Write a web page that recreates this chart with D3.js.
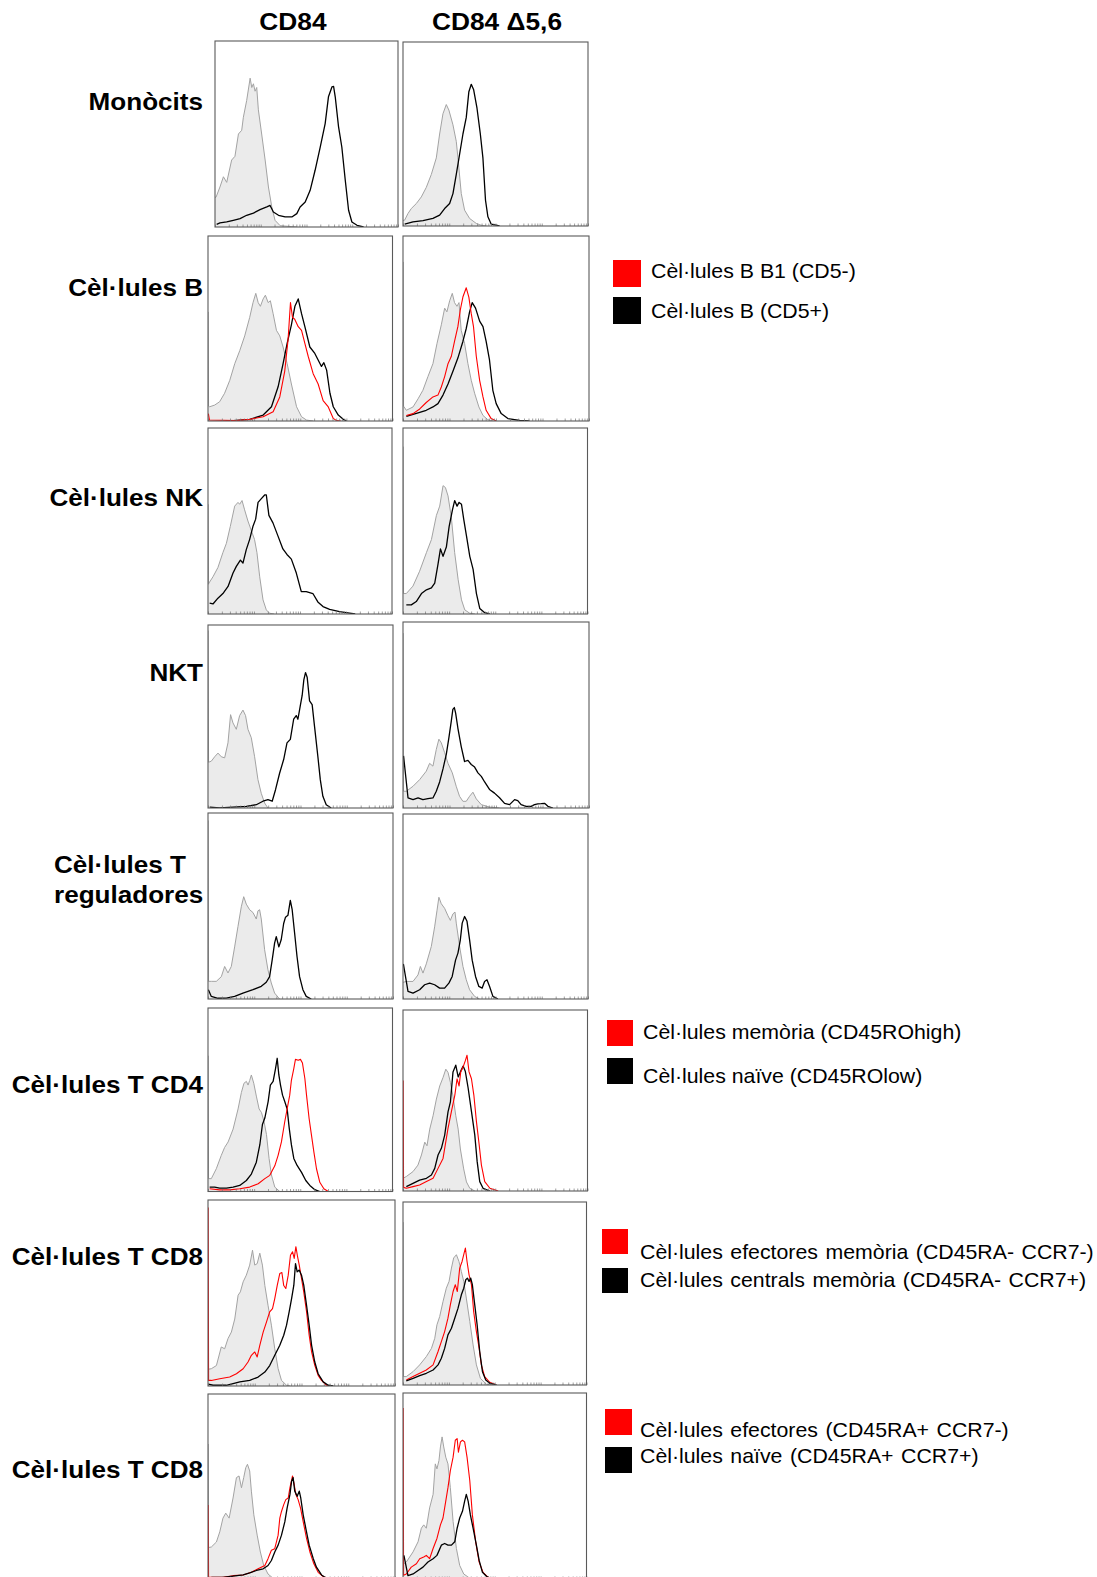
<!DOCTYPE html>
<html>
<head>
<meta charset="utf-8">
<script src="https://cdn.jsdelivr.net/npm/d3@7"></script>
<style>
body { margin: 0; background: #fff; }
svg { display: block; }
</style>
</head>
<body>
<script>
var w = 1097, h = 1577;

// titles / labels
var colTitles = ["CD84", "CD84 Δ5,6"];
var rowLabels = [["Monòcits"], ["Cèl·lules B"], ["Cèl·lules NK"], ["NKT"], ["Cèl·lules T", "reguladores"],
                 ["Cèl·lules T CD4"], ["Cèl·lules T CD8"], ["Cèl·lules T CD8"]];

var legendB    = ["Cèl·lules B B1 (CD5-)", "Cèl·lules B (CD5+)"];
var legendCD4  = ["Cèl·lules memòria (CD45ROhigh)", "Cèl·lules naïve (CD45ROlow)"];
var legendCD8a = ["Cèl·lules efectores memòria (CD45RA- CCR7-)", "Cèl·lules centrals memòria (CD45RA- CCR7+)"];
var legendCD8b = ["Cèl·lules efectores (CD45RA+ CCR7-)", "Cèl·lules naïve (CD45RA+ CCR7+)"];

// histograms: [channel 0-1000 (4 log decades), % of max]
// iso = control (grey filled)
var mono1_iso = [[0,16],[5.5,16],[27,21.5],[46,27],[64,24],[91,36],[109,38],[128,50],[146,52],[155,59],[173,68],[192,80],[201,75],[210,77],[219,73],[228,75],[237,63],[255,50],[274,36],[292,21.5],[310,11],[328,3.6],[356,0.7],[447,0]];
var mono1_pos = [[9,1.4],[27,2.2],[64,2.7],[100,3.6],[137,4.5],[173,6.3],[210,7.5],[246,9.3],[283,10.8],[301,11.6],[319,8.1],[347,6.3],[383,5.4],[420,5.4],[447,7.2],[465,10.8],[493,13.4],[520,19.7],[547,30.5],[575,43],[602,55.6],[620,70],[639,75.3],[648,75.6],[657,70],[675,54],[693,43],[712,25],[730,9],[748,2.7],[776,0.9],[812,0]];
var mono2_iso = [[0,3],[9,3.2],[27,6.8],[45,9.5],[72,12.2],[99,15.8],[126,21],[153,28],[180,37],[198,50],[216,61],[234,66],[248,63],[270,55],[288,46],[297,37],[315,17.6],[333,8.6],[360,4.1],[396,1.4],[423,0.4],[450,0]];
var mono2_pos = [[9,1],[54,2.2],[108,2.9],[162,4.1],[198,5.9],[225,9.5],[252,12.2],[270,17.6],[288,28],[306,39],[324,50],[342,59],[356,73],[369,77],[382,74],[400,64],[418,50],[432,37],[446,14],[459,5],[477,1],[522,0]];

var b1_iso = [[1,59],[3,8],[9,7.7],[36,8.6],[63,10.4],[90,15],[118,22],[145,31],[172,38],[199,46],[226,56],[244,64],[259,69],[272,64],[284,62],[299,66],[311,68],[326,64],[338,65],[353,58],[371,49],[389,46],[407,40],[429,31],[452,20],[480,7.7],[507,2.3],[534,0.5],[570,0]];
var b1_b1  = [[2,4],[8,0.5],[154,0.2],[226,0.9],[299,2.3],[353,5],[389,13],[416,27],[434,44],[447,64],[458,56],[470,55],[489,51],[507,49],[525,42],[543,35],[570,25.6],[597,20],[624,11],[652,7.6],[679,1.4],[697,0.2],[720,0]];
var b1_b   = [[136,0.2],[226,0.9],[299,3.2],[344,7.7],[380,18.5],[407,31],[429,42],[452,52],[471,62],[489,66],[507,58],[525,51],[552,40],[579,36.5],[597,33],[615,29.5],[628,31.5],[643,27.5],[661,15],[679,7.7],[706,3.2],[733,0.9],[751,0]];
var b2_iso = [[1,86],[3,8],[18,5.8],[54,7.6],[81,12],[107,16.6],[134,24],[161,31],[183,42],[206,52],[224,61],[236,59],[251,65],[265,69],[277,64],[290,62],[301,64],[313,49],[331,42],[349,31],[367,22],[385,15],[408,7.6],[430,3],[456,0.7],[483,0]];
var b2_b1  = [[18,3],[54,4],[90,6.5],[125,10],[161,13],[188,14],[206,18.4],[224,24],[242,31],[260,35],[277,43],[295,51],[308,60],[322,67],[340,72],[354,67],[367,58],[379,51],[394,35],[412,22],[430,13],[447,5.8],[474,1.3],[501,0]];
var b2_b   = [[18,2.5],[54,3.6],[90,4.7],[125,5.8],[161,7.6],[188,9.4],[215,14],[242,20],[269,27],[295,34],[322,43],[340,50],[358,59],[372,64],[390,61],[412,54],[430,51],[447,43],[465,33],[483,16.6],[501,9.4],[528,4],[564,1.3],[627,0.3],[680,0]];

var nk1_iso = [[1,59],[3,16],[5,16.6],[27,20],[54,25],[81,33],[100,38],[121,47],[145,58],[163,60],[172,59],[185,61],[199,56],[217,50],[235,45],[253,40],[266,33],[281,20],[299,7.6],[317,2.2],[335,0.4],[360,0]];
var nk1_pos = [[9,5.8],[27,5.4],[54,8.5],[81,11],[109,14.8],[136,22],[154,25.6],[176,29],[190,27.4],[208,34.6],[226,40],[244,47],[259,51],[272,60],[290,62],[308,64],[317,64],[331,53],[353,49],[380,42],[407,35],[429,32],[453,29.5],[480,22],[507,12],[534,12],[570,11],[597,6.5],[625,4],[661,2.5],[715,1.3],[769,0.5],[800,0]];
var nk2_iso = [[1,90],[3,11],[18,11],[54,15],[90,23],[127,33],[154,40],[181,53],[199,58],[217,69],[230,68],[244,63.5],[262,52],[280,33],[299,18.4],[317,7.6],[335,2.2],[362,0.4],[390,0]];
var nk2_pos = [[18,4.9],[45,4.9],[72,6.7],[100,11],[127,13],[154,14],[172,16.6],[190,27],[203,35],[217,31],[235,36],[250,47],[268,56],[280,61],[293,58],[304,60],[317,59],[329,51],[344,42],[362,31],[380,24],[398,11],[416,3],[443,0.7],[470,0]];

var nkt1_iso = [[1,97],[3,25],[18,25.6],[36,28],[54,30],[72,28],[90,27.4],[108,35.6],[122,51],[135,46.5],[153,43],[171,50.5],[189,53.5],[203,50.5],[216,43],[234,38.4],[252,28],[270,15.5],[288,8],[306,2.7],[324,0]];
var nkt1_pos = [[9,0.5],[63,0],[135,0.5],[207,0.9],[261,1.8],[297,3.7],[324,4.6],[347,3.7],[365,10],[387,19],[409,26.5],[427,35.6],[445,37.5],[463,48.5],[477,50.5],[486,48.5],[499,56],[509,61.5],[518,70],[527,74],[536,71.5],[549,58.5],[563,56.5],[576,44.5],[594,28],[607,15.5],[621,6.4],[639,1.8],[666,0]];
var nkt2_iso = [[1,94],[3,9],[18,9],[54,11.7],[90,15.3],[125,19.8],[143,24],[161,22.5],[179,31.5],[193,37],[206,35],[224,29.7],[242,24],[265,18.9],[286,11.7],[304,6.3],[322,3.6],[340,3.6],[358,6.3],[376,8.5],[394,4.9],[421,1.8],[465,0.5],[519,0]];
var nkt2_pos = [[3,28],[27,5.4],[54,4.5],[81,5.4],[107,4.5],[134,5],[161,5.4],[179,9],[197,14],[215,21],[233,29],[247,38],[260,47],[268,53],[276,54],[283,51],[295,43],[313,33],[331,25],[349,25.6],[367,23.4],[385,22],[403,18.9],[421,17],[439,14],[465,10],[492,8],[519,5.5],[546,2.5],[573,1.8],[600,4.5],[617,4],[635,1.8],[662,0.9],[689,0.9],[707,1.8],[725,2.2],[743,2.3],[761,2.5],[779,0.9],[806,0]];

var treg1_iso = [[1,96],[3,9.5],[18,9.5],[45,9.5],[72,12],[90,17.5],[108,14],[126,17.5],[144,28],[162,39],[180,49.6],[193,55],[207,51],[225,48],[243,46.5],[261,43],[270,47.4],[279,48],[288,43],[306,26.5],[324,15.7],[342,8.6],[360,3.2],[387,0]];
var treg1_pos = [[2,5],[18,1.4],[54,0.4],[99,0.5],[144,1.4],[189,3.2],[243,5],[288,6.8],[315,9],[333,12],[347,21],[360,30],[369,33.5],[383,28],[396,32],[409,40.6],[419,44],[432,45],[445,53],[455,48],[468,35.6],[481,23],[495,12],[513,5],[531,1.4],[558,0]];
var treg2_iso = [[0,9],[18,9.5],[54,9.5],[81,13],[94,17.6],[108,14],[126,19],[153,28.4],[171,39],[184,48],[194,55],[207,51.5],[225,49],[243,45],[256,42.5],[270,46],[281,47],[288,41],[306,28.4],[324,17.6],[342,10.4],[360,5],[387,1.4],[414,0]];
var treg2_pos = [[2,19],[27,4.1],[54,3.2],[90,5],[117,7.7],[144,8.6],[171,7.7],[198,5.9],[225,5.9],[248,8.6],[266,12.2],[284,21],[297,24.8],[310,32],[320,41],[333,44.6],[346,42],[360,32],[374,21],[392,12.2],[410,6.8],[428,5.9],[441,9.5],[454,10.4],[468,6.8],[486,1.4],[513,0]];

var cd4a_iso = [[1,74],[3,7],[18,7],[45,12.4],[72,19.7],[90,24],[109,27],[136,34],[163,45],[181,54],[195,59],[208,60],[217,58],[226,60.5],[235,63.5],[248,59],[262,52],[277,45],[290,43],[304,38],[317,31],[331,18],[344,9],[362,2.4],[389,0]];
var cd4a_hi  = [[9,1.5],[63,0.9],[118,0.9],[172,1.5],[226,2.4],[272,4.2],[308,7],[335,8.8],[362,14],[380,19.7],[398,27],[416,38],[429,45],[443,52.5],[452,60.6],[465,67],[474,72],[489,71.5],[501,72],[512,70],[525,61.6],[534,52.5],[548,39.8],[561,30.6],[574,21.5],[588,12.4],[606,5],[628,1.5],[652,0]];
var cd4a_lo  = [[9,2.4],[36,2.4],[63,1.8],[100,1.8],[136,2.4],[172,3.3],[208,6],[235,9.5],[262,16],[281,25.5],[295,36.5],[308,40],[326,49],[338,58],[353,60],[366,67],[375,72.6],[384,63.5],[393,58],[404,52.5],[416,49],[429,45],[440,34.7],[452,25.5],[465,18],[483,14.2],[507,10.4],[530,6],[552,3.3],[579,1],[606,0]];
var cd4b_iso = [[0,7],[18,8],[54,10.7],[81,14.3],[100,19.9],[118,27],[130,25],[145,34.2],[163,41.6],[181,50.8],[199,58],[217,62.7],[232,67.3],[244,65.5],[257,60],[271,52.4],[286,41.6],[299,34.2],[311,23.2],[329,12.2],[344,5],[362,1.5],[389,0]];
var cd4b_hi  = [[1,61],[3,2],[18,1.5],[54,2.4],[90,3.3],[127,5.2],[163,7],[190,12.5],[217,18],[244,34.6],[262,43.7],[281,53],[293,62],[304,58],[313,65.8],[326,68.6],[338,72],[347,75],[358,65.8],[371,62],[384,53],[398,38.3],[413,25.4],[425,14.3],[443,5.2],[471,1.5],[516,0]];
var cd4b_lo  = [[18,2.4],[54,4.2],[90,6],[127,7],[154,8.8],[172,12.5],[190,19.9],[208,23.6],[226,30.9],[244,43.7],[257,49.2],[271,65.8],[286,69.5],[299,63],[311,65.8],[326,69],[338,66],[353,56.9],[371,44],[389,31],[402,16.2],[416,5.2],[434,1.5],[471,0]];

var cd8a1_iso = [[1,9],[18,9.3],[45,11],[71,21],[89,20],[107,25.5],[125,29],[143,36],[161,48.8],[173,50.6],[188,56],[205,59.6],[223,65],[238,73],[250,65],[263,65.8],[277,71.4],[291,65],[304,54],[321,43.4],[339,32.7],[357,20],[375,9.3],[393,3],[420,0.4],[440,0]];
var cd8a1_em  = [[1,96],[3,3],[18,3],[63,3.9],[116,4.8],[152,6.6],[188,9.3],[214,12.9],[232,16.5],[250,18.3],[263,15.6],[277,21.9],[295,29],[313,34.5],[330,39.9],[345,41.6],[357,47],[370,54],[384,60.5],[395,61],[405,54],[416,52.4],[429,59.6],[441,70.3],[452,72.2],[461,68.6],[470,74.9],[479,69.5],[488,65],[500,57.8],[512,50.6],[527,39.9],[541,27.3],[554,18.3],[571,11.1],[589,5.7],[607,3],[634,0.4],[660,0]];
var cd8a1_cm  = [[2,1],[27,0.4],[98,0.4],[170,2.2],[223,3],[268,4.8],[304,7.5],[330,11],[357,16.5],[384,21.9],[405,27.3],[420,32.7],[434,39.9],[447,47],[459,54.2],[468,65.8],[477,61.4],[488,62.3],[500,59.6],[512,54.2],[527,43.4],[541,32.7],[554,21.9],[571,12.9],[589,6.6],[616,2.2],[643,0.4],[670,0]];
var cd8a2_iso = [[1,89],[3,4.6],[18,4.6],[55,7.3],[91,11],[127,15.5],[155,20],[173,25.5],[185,32.9],[200,37.4],[218,45.6],[236,52.9],[251,56.6],[264,63.9],[276,69.4],[291,71.2],[305,67.5],[318,62],[331,56.6],[345,47.5],[364,34.7],[382,21.9],[400,11],[422,3.6],[455,0.4],[480,0]];
var cd8a2_em  = [[18,2.7],[55,4.6],[91,6.4],[127,8.2],[164,11],[191,18.3],[209,23.7],[227,29.2],[245,36.5],[258,43.8],[273,51.1],[285,54.8],[296,51.1],[309,63.9],[322,67.5],[333,72],[340,74.8],[349,67.5],[360,60.2],[373,54.8],[385,40.2],[400,29.2],[415,20],[427,11],[445,4.6],[473,1.5],[509,0]];
var cd8a2_cm  = [[18,2.2],[55,3.6],[91,5.1],[127,6.4],[164,8.2],[191,11],[209,14.6],[227,20],[245,27.4],[264,31],[282,36.5],[300,42],[318,49.3],[331,52.9],[342,57.5],[351,58.4],[360,56.6],[369,58.4],[378,54.8],[391,43.8],[404,32.9],[418,18.3],[433,7.3],[451,2.7],[473,0.9],[509,0]];

var cd8b1_iso = [[1,73],[3,17],[18,17.3],[45,20],[63,25.5],[80,32.9],[95,35.6],[113,32.9],[134,43.8],[152,54.8],[166,55.7],[179,49.3],[191,54.8],[202,60.2],[211,62],[223,58.4],[232,47.5],[245,34.7],[263,23.7],[280,14.6],[298,7.3],[321,2.7],[348,0.4],[370,0]];
var cd8b1_ef  = [[1,40],[3,1],[18,0.9],[80,0.9],[134,1.8],[188,2.2],[232,3.6],[268,5.5],[304,7.3],[321,11],[339,15.5],[357,16.4],[375,23.7],[384,32.9],[393,36.5],[405,40.2],[416,42.9],[429,43.8],[438,49.3],[452,55.7],[461,51.1],[470,45.6],[482,42.9],[495,38.3],[509,31],[527,21.9],[545,14.6],[566,8.2],[589,3.6],[616,1.3],[652,0]];
var cd8b1_nv  = [[18,0.9],[80,0.9],[134,1.5],[188,2.2],[223,3.3],[259,4.6],[295,5.5],[321,7.3],[339,10],[357,14.6],[375,18.3],[393,23.7],[411,31],[423,38.3],[438,45.6],[447,52.9],[455,54.8],[464,47.5],[477,44.7],[488,47.5],[496,43.8],[509,34.7],[523,27.4],[541,18.3],[563,11],[580,6.4],[607,2.2],[634,0.4],[660,0]];
var cd8b2_iso = [[1,8],[18,9.1],[55,14.6],[82,20],[100,27.3],[113,29.1],[127,27.3],[145,38.2],[164,45.5],[176,61.9],[185,59.2],[196,63.7],[204,71],[213,76.4],[222,71],[233,65.5],[245,61.9],[258,49.1],[273,30.9],[291,16.4],[309,7.3],[331,2.7],[364,0.4],[390,0]];
var cd8b2_ef  = [[1,92],[3,2],[18,2.7],[45,6.4],[73,8.2],[91,10.9],[113,11.8],[127,12.7],[145,10.9],[164,16.4],[185,21.8],[204,29.1],[218,32.8],[233,41.9],[245,49.1],[258,58.2],[273,65.5],[285,74.6],[295,75.5],[302,68.2],[313,73.7],[324,74.6],[336,73.7],[349,65.5],[364,52.8],[378,34.6],[396,20],[415,9.1],[436,3.6],[464,0.9],[500,0]];
var cd8b2_nv  = [[5,12.7],[27,1.8],[55,2.7],[82,4.6],[109,6.4],[136,9.1],[164,10.9],[185,12.7],[209,18.2],[227,19.1],[245,18.2],[264,18.2],[282,20],[295,27.3],[309,32.8],[324,36.4],[336,41.9],[345,45.5],[355,41.9],[367,34.6],[382,27.3],[400,18.2],[415,10],[433,3.6],[455,1.5],[482,0]];

var RED = "#ff0000", BLK = "#000000";

// which curves go in which panel [row][col]
var panels = [
  [{iso: mono1_iso, lines: [[mono1_pos, BLK]]}, {iso: mono2_iso, lines: [[mono2_pos, BLK]]}],
  [{iso: b1_iso, lines: [[b1_b, BLK], [b1_b1, RED]]}, {iso: b2_iso, lines: [[b2_b, BLK], [b2_b1, RED]]}],
  [{iso: nk1_iso, lines: [[nk1_pos, BLK]]}, {iso: nk2_iso, lines: [[nk2_pos, BLK]]}],
  [{iso: nkt1_iso, lines: [[nkt1_pos, BLK]]}, {iso: nkt2_iso, lines: [[nkt2_pos, BLK]]}],
  [{iso: treg1_iso, lines: [[treg1_pos, BLK]]}, {iso: treg2_iso, lines: [[treg2_pos, BLK]]}],
  [{iso: cd4a_iso, lines: [[cd4a_lo, BLK], [cd4a_hi, RED]]}, {iso: cd4b_iso, lines: [[cd4b_lo, BLK], [cd4b_hi, RED]]}],
  [{iso: cd8a1_iso, lines: [[cd8a1_em, RED], [cd8a1_cm, BLK]]}, {iso: cd8a2_iso, lines: [[cd8a2_em, RED], [cd8a2_cm, BLK]]}],
  [{iso: cd8b1_iso, lines: [[cd8b1_ef, RED], [cd8b1_nv, BLK]]}, {iso: cd8b2_iso, lines: [[cd8b2_ef, RED], [cd8b2_nv, BLK]]}]
];

// layout (pixel boxes of each panel: x, y, width, height)
var boxes = [
  [[215,41,183,186],[403,42,185,184]],
  [[208,236,184.5,185],[403,236,186,185]],
  [[208,428,184,186],[403,428,184.5,186]],
  [[208,625,185,183],[403,622,186,186]],
  [[208,813,185,186],[403,814,185,185]],
  [[208,1008,184.5,183.5],[403,1010,184.5,181]],
  [[208,1200,187,186],[403,1202,183.5,183]],
  [[208,1394,187,185],[403,1393,183.5,186]]
];
var titlePos = [[293,30],[497,30]];
var labelPos = [[203,110,"end"],[203,296,"end"],[203,506,"end"],[203,681,"end"],[54,873,"start"],
                [203,1093,"end"],[203,1265,"end"],[203,1478,"end"]];
var legends = [
  {texts: legendB,    sx: 613, sy: [260,297],   sw: 28, sh: 27, tx: 651, ty: [278,318], ws: 0},
  {texts: legendCD4,  sx: 607, sy: [1020,1058], sw: 26, sh: 26, tx: 643, ty: [1039,1083], ws: 0},
  {texts: legendCD8a, sx: 602, sy: [1229,1268], sw: 26, sh: 25, tx: 640, ty: [1259,1287], ws: 1.5},
  {texts: legendCD8b, sx: 605, sy: [1409,1447], sw: 27, sh: 26, tx: 640, ty: [1437,1463], ws: 1.5}
];

var svg = d3.select("body").append("svg")
    .attr("width", w)
    .attr("height", h)
    .style("font-family", "'Liberation Sans', Arial, sans-serif");

function txt(x, y, s, size, weight, anchor, sx, ws) {
    svg.append("text")
        .attr("transform", "translate(" + x + "," + y + ") scale(" + sx + ",1)")
        .attr("text-anchor", anchor)
        .attr("font-size", size)
        .attr("font-weight", weight)
        .attr("word-spacing", ws || 0)
        .attr("fill", "#000")
        .text(s);
}

// column titles
colTitles.forEach(function (s, i) {
    txt(titlePos[i][0], titlePos[i][1], s, 23.5, "bold", "middle", 1.12);
});

// row labels
rowLabels.forEach(function (lines, i) {
    var p = labelPos[i];
    lines.forEach(function (s, j) {
        txt(p[0], p[1] + j * 30, s, 23.5, "bold", p[2], 1.11);
    });
});

// panels
panels.forEach(function (row, r) {
    row.forEach(function (pn, c) {
        var b = boxes[r][c];
        var x = d3.scaleLinear().domain([0, 1000]).range([b[0], b[0] + b[2]]);
        var y = d3.scaleLinear().domain([0, 100]).range([b[1] + b[3], b[1]]);
        var id = "clip" + r + "_" + c;

        svg.append("clipPath").attr("id", id)
            .append("rect").attr("x", b[0]).attr("y", b[1]).attr("width", b[2]).attr("height", b[3]);

        var g = svg.append("g").attr("clip-path", "url(#" + id + ")");

        var area = d3.area().x(function (d) { return x(d[0]); }).y0(y(0)).y1(function (d) { return y(d[1]); });
        var line = d3.line().x(function (d) { return x(d[0]); }).y(function (d) { return y(d[1]); });

        g.append("path").attr("d", area(pn.iso)).attr("fill", "#ebebeb");
        g.append("path").attr("d", line(pn.iso)).attr("fill", "none").attr("stroke", "#a3a3a3").attr("stroke-width", 1);

        pn.lines.forEach(function (l) {
            g.append("path").attr("d", line(l[0]))
                .attr("fill", "none")
                .attr("stroke", l[1])
                .attr("stroke-width", l[1] == RED ? 1.1 : 1.3)
                .attr("stroke-linejoin", "round");
        });

        // log ticks on the fluorescence axis
        var xl = d3.scaleLog().domain([1, 1e4]).range([b[0], b[0] + b[2]]);
        var ax = svg.append("g").attr("transform", "translate(0," + (b[1] + b[3]) + ")")
            .call(d3.axisBottom(xl).tickSize(-2.5).tickFormat(""));
        ax.select(".domain").remove();
        ax.selectAll(".tick line").attr("stroke", "#777").attr("stroke-width", 0.7);

        svg.append("rect")
            .attr("x", b[0]).attr("y", b[1]).attr("width", b[2]).attr("height", b[3])
            .attr("fill", "none").attr("stroke", "#5a5a5a").attr("stroke-width", 1.1);
    });
});

// legends
legends.forEach(function (lg) {
    [RED, BLK].forEach(function (col, k) {
        svg.append("rect")
            .attr("x", lg.sx).attr("y", lg.sy[k]).attr("width", lg.sw).attr("height", lg.sh)
            .attr("fill", col);
        txt(lg.tx, lg.ty[k], lg.texts[k], 20, "normal", "start", 1.065, lg.ws);
    });
});
</script>
</body>
</html>
